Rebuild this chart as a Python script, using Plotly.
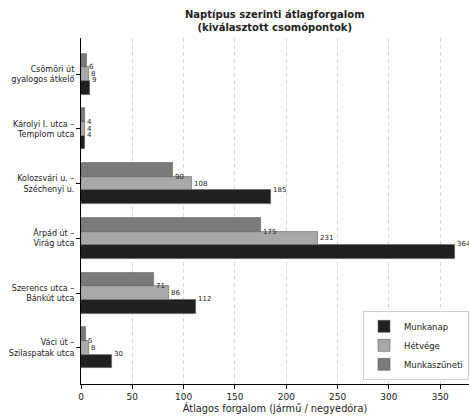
import plotly.graph_objects as go

locations = ['Csömöri út<br>gyalogos átkelő', 'Károlyi I. utca –<br>Templom utca',
             'Kolozsvári u. –<br>Széchenyi u.', 'Árpád út –<br>Virág utca',
             'Szerencs utca –<br>Bánkút utca', 'Váci út –<br>Szilaspatak utca']
munkanap = [9, 4, 185, 364, 112, 30]
hetvege = [8, 4, 108, 231, 86, 8]
munkaszuneti = [6, 4, 90, 175, 71, 5]

series = [
    ('Munkanap', munkanap, '#202020', 0.25),
    ('Hétvége', hetvege, '#a8a8a8', 0.0),
    ('Munkaszüneti', munkaszuneti, '#7a7a7a', -0.25),
]
label_shift = {'Munkanap': 0.11, 'Hétvége': 0.0, 'Munkaszüneti': -0.125}

fig = go.Figure()
idx = list(range(len(locations)))

for name, vals, color, off in series:
    fig.add_trace(go.Bar(
        x=vals, y=[i + off for i in idx], orientation='h', width=0.25,
        name=name, marker=dict(color=color, line=dict(color='rgba(90,90,90,0.7)', width=0.8)),
    ))

# Value labels at bar ends
for name, vals, color, off in series:
    for i, v in zip(idx, vals):
        fig.add_annotation(x=v, y=i + label_shift[name], text=str(v), showarrow=False,
                           xanchor='left', yanchor='middle', xshift=0,
                           font=dict(family='DejaVu Sans', size=7, color='#222222'))

# Title
fig.add_annotation(x=0.5, y=1, xref='paper', yref='paper', xanchor='center', yanchor='bottom',
                   yshift=3, showarrow=False,
                   text='<b>Naptípus szerinti átlagforgalom<br>(kiválasztott csomópontok)</b>',
                   font=dict(family='DejaVu Sans', size=10, color='#222222'))

fig.update_layout(
    width=469, height=417,
    margin=dict(l=81, r=0, t=38, b=33),
    plot_bgcolor='white', paper_bgcolor='white',
    font=dict(family='DejaVu Sans', size=9, color='#222222'),
    bargap=0, showlegend=True,
    legend=dict(x=1, y=0.012, xanchor='right', yanchor='bottom', traceorder='normal',
                bgcolor='rgba(255,255,255,0.9)', bordercolor='#cccccc', borderwidth=1,
                font=dict(size=8.5), tracegroupgap=0),
)
fig.update_xaxes(range=[0, 378], tickvals=[0, 50, 100, 150, 200, 250, 300, 350],
                 showgrid=True, gridcolor='#d9d9d9', griddash='4px,3px', gridwidth=0.8,
                 showline=True, linecolor='black', linewidth=1.2, ticks='outside', ticklen=4,
                 tickcolor='black', zeroline=False,
                 title=dict(text='Átlagos forgalom (jármű / negyedóra)', font=dict(size=9.8), standoff=3),
                 tickfont=dict(size=9))
fig.update_yaxes(range=[5.6625, -0.6625], tickvals=idx, ticktext=locations,
                 showgrid=False, showline=True, linecolor='black', linewidth=1.2,
                 ticks='outside', ticklen=4, tickcolor='black', zeroline=False,
                 tickfont=dict(size=8))

fig.write_html('out.html', config={'displayModeBar': False},
               post_script="document.body.style.margin='0';document.body.style.overflow='hidden';")
